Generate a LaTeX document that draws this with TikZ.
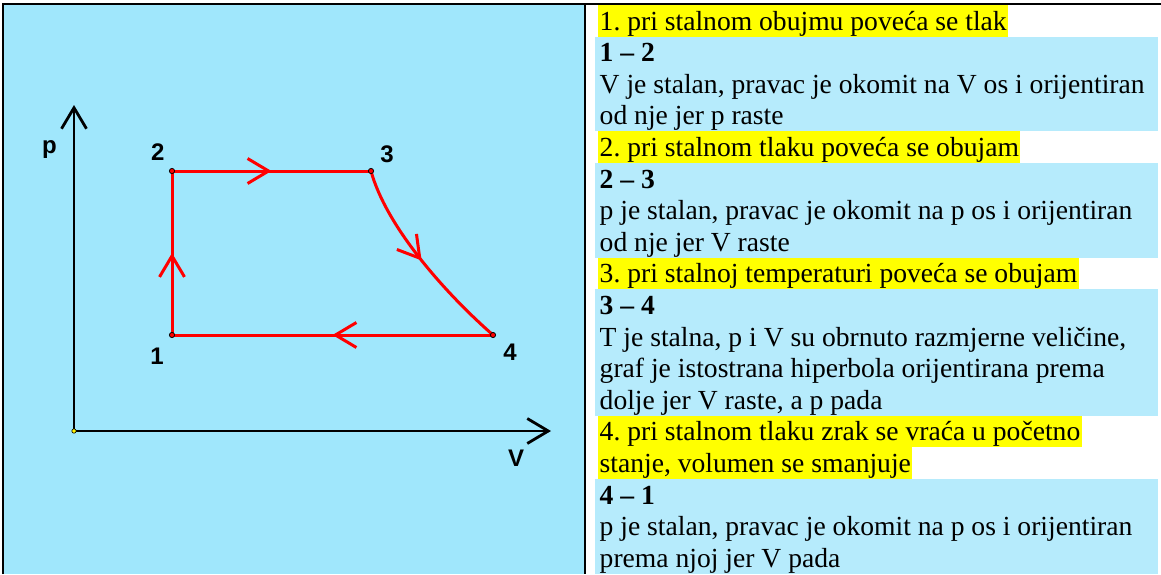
\documentclass[tikz,border=0pt]{standalone}
\usepackage{fontspec}
\setmainfont{Liberation Serif}
\setsansfont{Liberation Sans}
\usetikzlibrary{arrows.meta,decorations.markings}

\definecolor{panelblue}{RGB}{160,231,252}
\definecolor{rowblue}{RGB}{182,235,252}
\definecolor{marker}{RGB}{255,255,0}

\tikzset{
  frame/.style={line width=2.2pt, black},
  axis/.style={line width=2.8pt, black, ->},
  proc/.style={line width=3pt, red, line cap=round},
  midarrow/.style={postaction={decorate},
    decoration={markings, mark=at position 0.5 with {\arrow{>}}}},
  vertex/.style={fill=red, draw=black, line width=0.8pt},
  lbl/.style={font=\fontsize{24pt}{26pt}\sffamily\bfseries\selectfont, inner sep=0pt},
  rowtext/.style={anchor=base west, inner sep=0pt,
    font=\fontsize{27.6pt}{31.6pt}\selectfont},
  hltext/.style={rowtext, fill=marker, inner xsep=1.5pt,
    text height=25.1pt, text depth=6.5pt}
}
\frenchspacing

\begin{document}
\begin{tikzpicture}[x=1pt, y=-1pt, >={Straight Barb[length=21pt, width=25pt]}]
	\useasboundingbox (0,0) rectangle (1161,574);
	
	\fill[panelblue] (3,4) rectangle (585,574);
	\draw[frame] (3,574) -- (3,4) -- (1161,4);
	\draw[frame] (585,4) -- (585,574);
	
	\coordinate (O) at (74,431);
	\coordinate (ptop) at (74,105);
	\coordinate (Vend) at (551,431);
	\coordinate (A1) at (172,335);
	\coordinate (A2) at (172,171);
	\coordinate (A3) at (371,171);
	\coordinate (A4) at (493,335);
	
	\draw[axis] (O) -- (ptop);
	\draw[axis] (O) -- (Vend);
	\filldraw[fill=yellow, draw=black, line width=0.6pt] (O) circle (2.2pt);
	\node[lbl] (pl) at (49.5,150) {p};
	\node[lbl] (Vl) at (516,458.5) {V};
	
	\draw[proc, midarrow] (A1) -- (A2);
	\draw[proc, midarrow] (A2) -- (A3);
	\draw[proc, midarrow] (A3) .. controls (386,226) and (444,292) .. (A4);
	\draw[proc, midarrow] (A4) -- (A1);
	\foreach \p in {A1,A2,A3,A4}
		\filldraw[vertex] (\p) circle (2.6pt);
	
	\node[lbl] (l1) at (157,356) {1};
	\node[lbl] (l2) at (157.7,152.3) {2};
	\node[lbl] (l3) at (387,154.2) {3};
	\node[lbl] (l4) at (510,352.3) {4};
	
	\fill[rowblue] (595,36.6) rectangle (1158,131.4);
	\fill[rowblue] (595,162.6) rectangle (1158,257.8);
	\fill[rowblue] (595,289.4) rectangle (1158,415.8);
	\fill[rowblue] (595,478.9) rectangle (1158,574);
	
	\node[hltext] (r0) at (598,30.1) {1. pri stalnom obujmu poveća se tlak};
	\node[rowtext] (r1) at (599.5,61.7) {\textbf{1 -- 2}};
	\node[rowtext] (r2) at (599.5,93.3) {V je stalan, pravac je okomit na V os i orijentiran};
	\node[rowtext] (r3) at (599.5,124.9) {od nje jer p raste};
	\node[hltext] (r4) at (598,156.5) {2. pri stalnom tlaku poveća se obujam};
	\node[rowtext] (r5) at (599.5,188.1) {\textbf{2 -- 3}};
	\node[rowtext] (r6) at (599.5,219.7) {p je stalan, pravac je okomit na p os i orijentiran};
	\node[rowtext] (r7) at (599.5,251.3) {od nje jer V raste};
	\node[hltext] (r8) at (598,282.9) {3. pri stalnoj temperaturi poveća se obujam};
	\node[rowtext] (r9) at (599.5,314.5) {\textbf{3 -- 4}};
	\node[rowtext] (r10) at (599.5,346.1) {T je stalna, p i V su obrnuto razmjerne veličine,};
	\node[rowtext] (r11) at (599.5,377.7) {graf je istostrana hiperbola orijentirana prema};
	\node[rowtext] (r12) at (599.5,409.3) {dolje jer V raste, a p pada};
	\node[hltext] (r13) at (598,440.9) {4. pri stalnom tlaku zrak se vraća u početno};
	\node[hltext] (r14) at (598,472.5) {stanje, volumen se smanjuje};
	\node[rowtext] (r15) at (599.5,504.1) {\textbf{4 -- 1}};
	\node[rowtext] (r16) at (599.5,535.7) {p je stalan, pravac je okomit na p os i orijentiran};
	\node[rowtext] (r17) at (599.5,567.3) {prema njoj jer V pada};
	
\end{tikzpicture}
\end{document}
